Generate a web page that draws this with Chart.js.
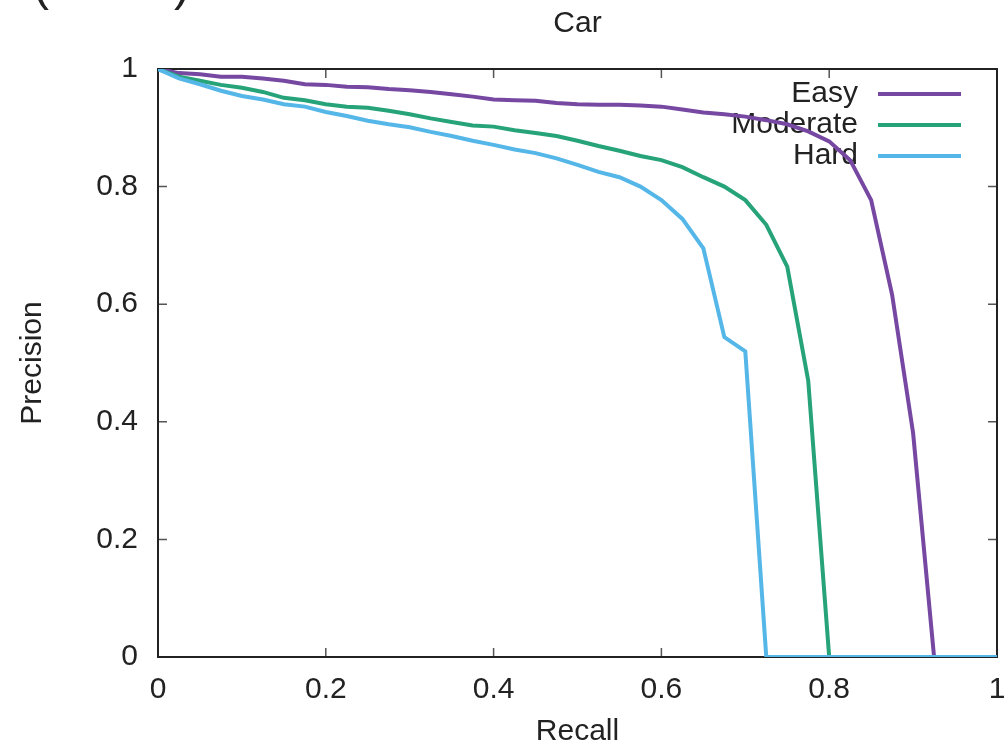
<!DOCTYPE html>
<html>
<head>
<meta charset="utf-8">
<script src="https://cdn.jsdelivr.net/npm/chart.js@4"></script>
<style>
html, body { margin: 0; padding: 0; background: #fff; }
canvas { display: block; }
</style>
</head>
<body>
<canvas id="prCurve" width="1008" height="747"></canvas>
<script>
// 41 recall points
var recall = [0, 0.025, 0.05, 0.075, 0.1, 0.125, 0.15, 0.175, 0.2, 0.225,
    0.25, 0.275, 0.3, 0.325, 0.35, 0.375, 0.4, 0.425, 0.45, 0.475,
    0.5, 0.525, 0.55, 0.575, 0.6, 0.625, 0.65, 0.675, 0.7, 0.725,
    0.75, 0.775, 0.8, 0.825, 0.85, 0.875, 0.9, 0.925, 0.95, 0.975, 1];

var easy = [1.0, 0.993, 0.991, 0.987, 0.987, 0.984, 0.980, 0.974, 0.973, 0.970,
    0.969, 0.966, 0.964, 0.961, 0.957, 0.953, 0.948, 0.947, 0.946, 0.942,
    0.940, 0.939, 0.939, 0.938, 0.936, 0.931, 0.926, 0.923, 0.919, 0.913,
    0.906, 0.894, 0.877, 0.845, 0.777, 0.616, 0.381, 0, 0, 0, 0];

var moderate = [1.0, 0.987, 0.980, 0.973, 0.968, 0.961, 0.951, 0.947, 0.940, 0.936,
    0.934, 0.929, 0.923, 0.916, 0.910, 0.904, 0.902, 0.896, 0.891, 0.886,
    0.878, 0.869, 0.861, 0.852, 0.845, 0.833, 0.816, 0.800, 0.777, 0.735,
    0.664, 0.470, 0, 0, 0, 0, 0, 0, 0, 0, 0];

var hard = [1.0, 0.984, 0.974, 0.963, 0.954, 0.948, 0.940, 0.936, 0.927, 0.920,
    0.912, 0.906, 0.901, 0.893, 0.886, 0.878, 0.871, 0.863, 0.857, 0.848,
    0.837, 0.825, 0.816, 0.800, 0.777, 0.745, 0.695, 0.544, 0.520, 0,
    0, 0, 0, 0, 0, 0, 0, 0, 0, 0, 0];

var seriesNames = ['Easy', 'Moderate', 'Hard'];
var seriesValues = [easy, moderate, hard];
var seriesColors = ['#7648a2', '#27a37a', '#55b6e8'];
var axisTicks = [0, 0.2, 0.4, 0.6, 0.8, 1];

var fontFamily = "'Liberation Sans', Arial, Helvetica, sans-serif";
var textColor = '#222';

function toPoints(values) {
    return recall.map(function (r, i) { return { x: r, y: values[i] }; });
}

function fixedTicks(scale) {
    scale.ticks = axisTicks.map(function (v) { return { value: v }; });
}

// border box, inward ticks on all sides and the key (drawn under the curves, like gnuplot)
var framePlugin = {
    id: 'frame',
    beforeDatasetsDraw: function (chart) {
        var ctx = chart.ctx;
        var a = chart.chartArea;
        var xs = chart.scales.x, ys = chart.scales.y;
        ctx.save();

        ctx.strokeStyle = '#555';
        ctx.lineWidth = 1.5;
        ctx.beginPath();
        axisTicks.forEach(function (v) {
            var px = xs.getPixelForValue(v);
            var py = ys.getPixelForValue(v);
            ctx.moveTo(px, a.bottom); ctx.lineTo(px, a.bottom - 9);
            ctx.moveTo(px, a.top); ctx.lineTo(px, a.top + 9);
            ctx.moveTo(a.left, py); ctx.lineTo(a.left + 9, py);
            ctx.moveTo(a.right, py); ctx.lineTo(a.right - 9, py);
        });
        ctx.stroke();

        ctx.strokeStyle = '#222';
        ctx.lineWidth = 2;
        ctx.strokeRect(a.left, a.top, a.right - a.left, a.bottom - a.top);

        // key
        ctx.font = '30px ' + fontFamily;
        ctx.textAlign = 'right';
        ctx.textBaseline = 'middle';
        chart.data.datasets.forEach(function (ds, i) {
            var y = a.top + 25 + i * 31;
            ctx.fillStyle = textColor;
            ctx.fillText(ds.label, a.right - 139, y);
            ctx.strokeStyle = ds.borderColor;
            ctx.lineWidth = 4;
            ctx.beginPath();
            ctx.moveTo(a.right - 119, y);
            ctx.lineTo(a.right - 36, y);
            ctx.stroke();
        });
        ctx.restore();
    },
    afterDraw: function (chart) {
        // subfigure label cut off by the top edge
        var ctx = chart.ctx;
        ctx.save();
        ctx.font = '48px ' + fontFamily;
        ctx.fillStyle = textColor;
        ctx.textBaseline = 'alphabetic';
        ctx.textAlign = 'left';
        ctx.fillText('(', 33, 0);
        ctx.fillText(')', 174, 0);
        ctx.restore();
    }
};

var datasets = seriesNames.map(function (name, i) {
    return {
        label: name,
        data: toPoints(seriesValues[i]),
        borderColor: seriesColors[i],
        backgroundColor: seriesColors[i],
        borderWidth: 4,
        pointRadius: 0,
        tension: 0,
        fill: false,
        order: seriesNames.length - i
    };
});

var ctx = document.getElementById('prCurve').getContext('2d');
var chart = new Chart(ctx, {
    type: 'line',
    data: { datasets: datasets },
    options: {
        responsive: false,
        animation: false,
        layout: { padding: { left: 0, right: 11, top: 0, bottom: 0 } },
        plugins: {
            legend: { display: false },
            title: { display: false },
            tooltip: { enabled: false }
        },
        scales: {
            x: {
                type: 'linear',
                position: 'bottom',
                min: 0,
                max: 1,
                afterBuildTicks: fixedTicks,
                afterFit: function (scale) {
                    scale.height = 90;
                    scale.paddingLeft = 0;
                    scale.paddingRight = 0;
                },
                grid: { display: false, drawTicks: false },
                border: { display: false },
                ticks: {
                    padding: 15,
                    color: textColor,
                    font: { family: fontFamily, size: 30 },
                    maxRotation: 0,
                    callback: function (value) { return String(value); }
                },
                title: {
                    display: true,
                    text: 'Recall',
                    color: textColor,
                    font: { family: fontFamily, size: 30, lineHeight: 1 },
                    padding: { top: 0, bottom: 0 }
                }
            },
            top: {
                type: 'linear',
                position: 'top',
                min: 0,
                max: 1,
                afterFit: function (scale) { scale.height = 69; },
                grid: { display: false, drawTicks: false },
                border: { display: false },
                ticks: { display: false },
                title: {
                    display: true,
                    text: 'Car',
                    color: textColor,
                    font: { family: fontFamily, size: 30, lineHeight: 1.2 },
                    padding: { top: 6, bottom: 0 }
                }
            },
            y: {
                type: 'linear',
                position: 'left',
                min: 0,
                max: 1,
                afterBuildTicks: fixedTicks,
                afterFit: function (scale) {
                    scale.width = 158;
                    scale.paddingTop = 0;
                    scale.paddingBottom = 0;
                },
                grid: { display: false, drawTicks: false },
                border: { display: false },
                ticks: {
                    padding: 20,
                    color: textColor,
                    font: { family: fontFamily, size: 30 },
                    callback: function (value) { return String(value); }
                },
                title: {
                    display: true,
                    text: 'Precision',
                    color: textColor,
                    font: { family: fontFamily, size: 30, lineHeight: 1.2 },
                    padding: { top: 15, bottom: 0 }
                }
            }
        }
    },
    plugins: [framePlugin]
});
</script>
</body>
</html>
